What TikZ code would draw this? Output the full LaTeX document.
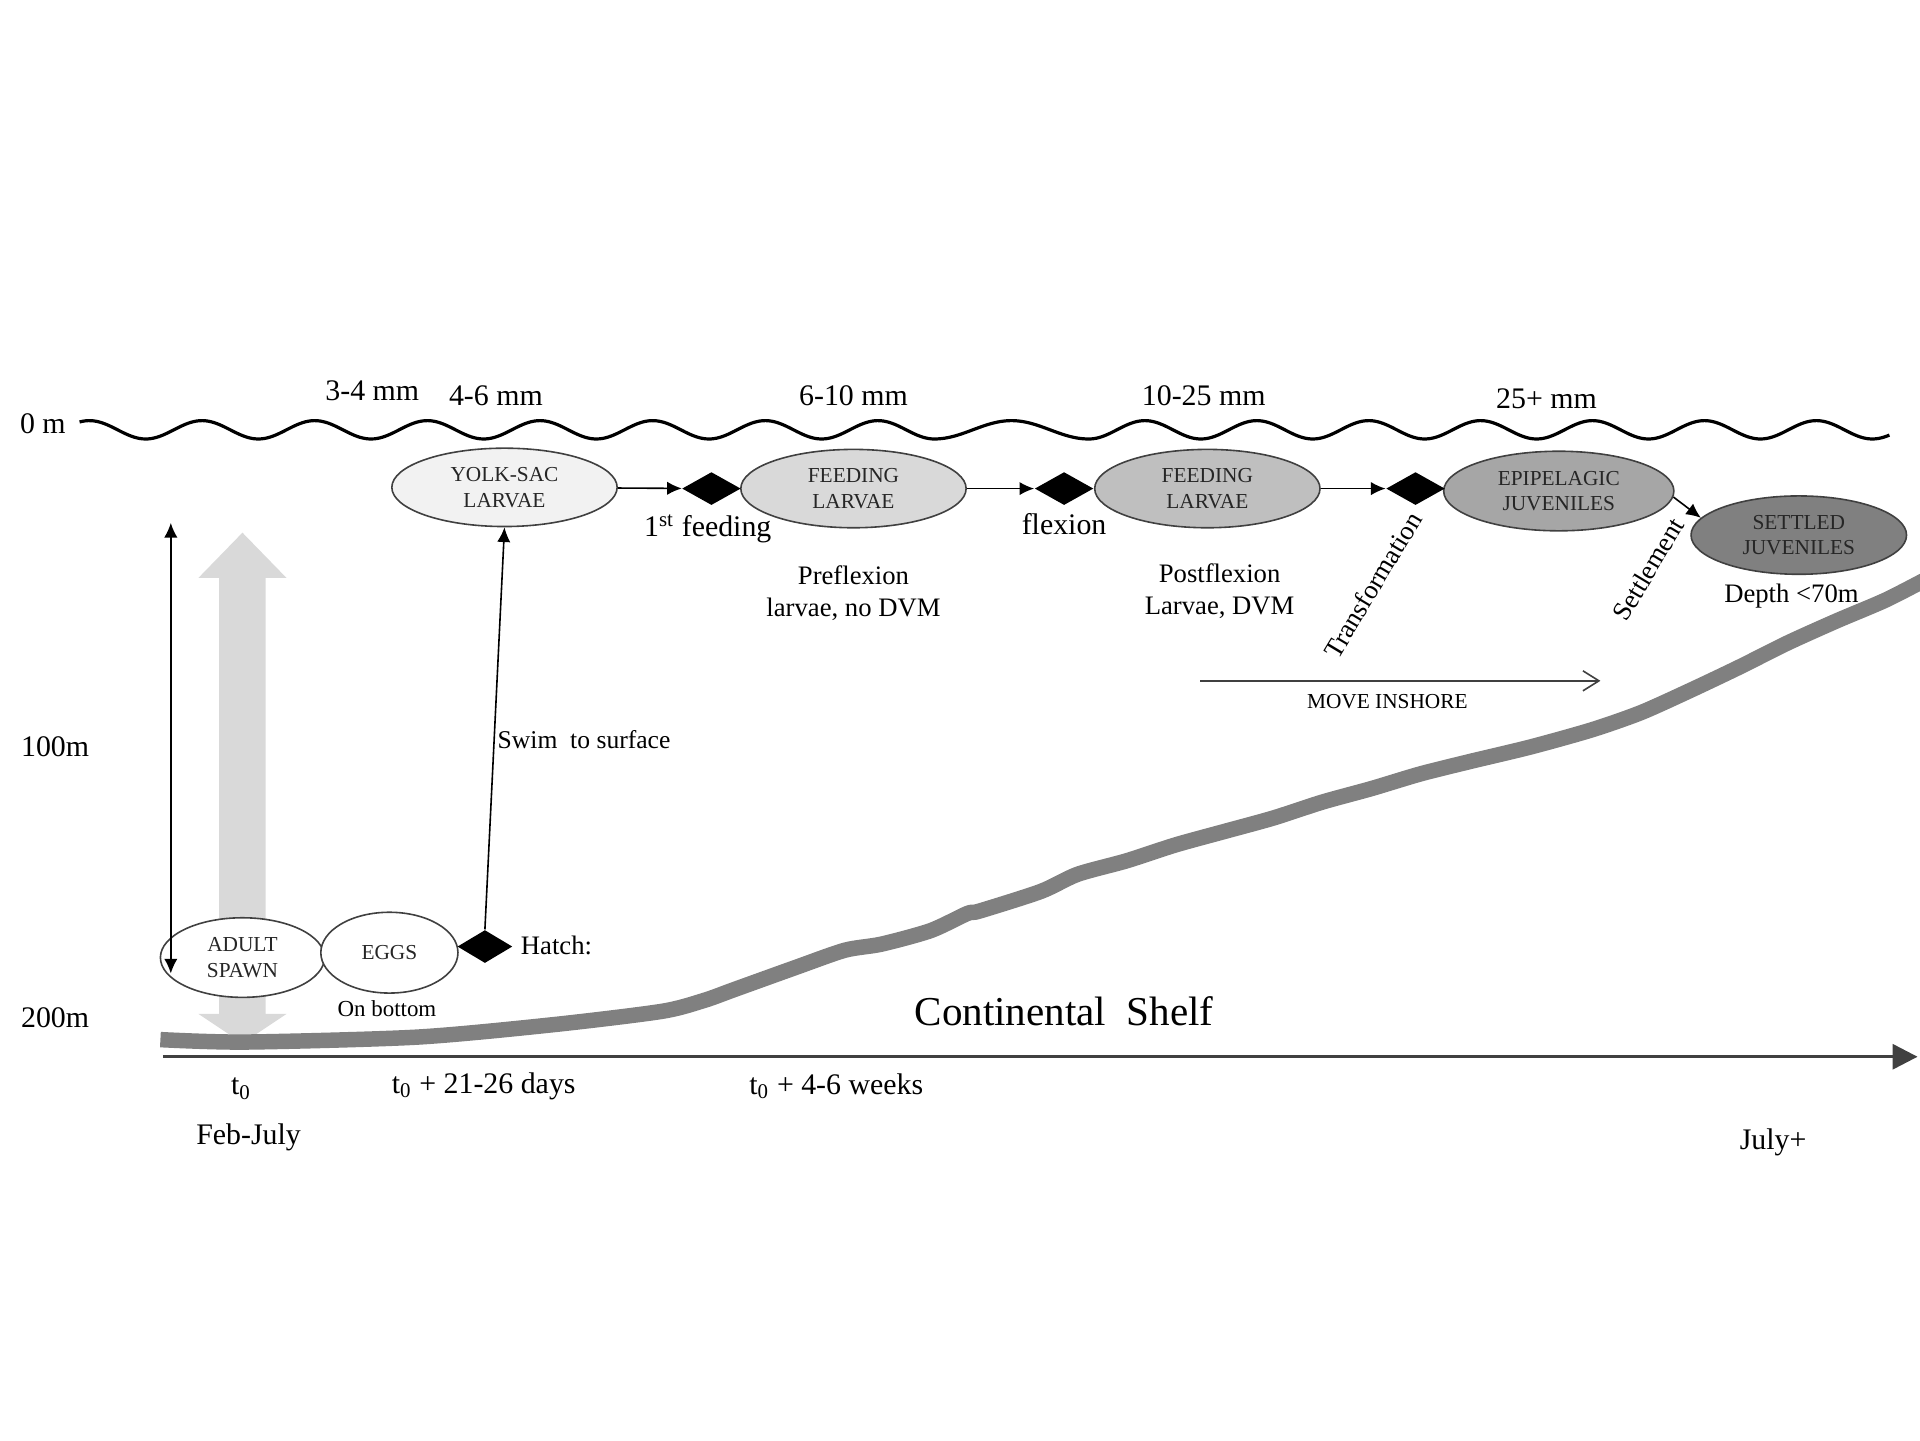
\documentclass[tikz,border=0pt]{standalone}
\usepackage{fontspec}
\setmainfont{Liberation Serif}
\usetikzlibrary{shapes.geometric,arrows.meta}
\newcommand{\myu}{0.4592pt}
\definecolor{yolkc}{HTML}{F2F2F2}
\definecolor{feedac}{HTML}{D9D9D9}
\definecolor{feedbc}{HTML}{BFBFBF}
\definecolor{epic}{HTML}{A6A6A6}
\definecolor{settc}{HTML}{808080}
\definecolor{bedc}{HTML}{808080}
\definecolor{bigarrc}{HTML}{D9D9D9}
\definecolor{axisc}{HTML}{404040}
\begin{document}
\begin{tikzpicture}[x=0.4592pt,y=-0.4592pt,
  stage/.style={ellipse, draw=black!75, line width=0.6pt, inner sep=0pt, align=center,
    font=\fontsize{8}{9.6}\selectfont, text=black!85,
    minimum width=184*\myu, minimum height=64*\myu},
  gate/.style={diamond, fill=black, draw=none, inner sep=0pt,
    minimum width=48*\myu, minimum height=27*\myu},
  flow/.style={-{Latex[length=5.5pt,width=5pt]}, line width=0.6pt},
  bigtext/.style={font=\fontsize{11.2}{13}\selectfont, inner sep=0pt},
  midtext/.style={font=\fontsize{10}{12}\selectfont, inner sep=0pt, align=center},
  tinytext/.style={font=\fontsize{8}{9.6}\selectfont, inner sep=0pt},
]
\useasboundingbox (0,0) rectangle (1568,1176);

% big light gray double arrow
\fill[bigarrc] (198,435) -- (234,472) -- (217,472) -- (217,828) -- (234,828) -- (198,852)
  -- (162,828) -- (179,828) -- (179,472) -- (162,472) -- cycle;

% sea surface
\draw[line width=1.2pt, line join=round]
  plot[domain=65:763, samples=300, smooth] (\x, {351 - 7.5*cos(3.913*(\x-165))})
  -- plot[domain=763:889, samples=60, smooth] (\x, {351 + 7.5*cos(2.857*(\x-763))})
  -- plot[domain=889:1543, samples=300, smooth] (\x, {351 - 7.5*cos(3.939*(\x-935))});

% seabed
\draw[bedc, line width=5.8pt, line cap=butt, line join=round] plot[smooth, tension=0.45] coordinates {
  (131,849) (200,851) (340,847) (450,837) (540,826) (575,817) (600,808) (650,790)
  (690,776) (720,771) (760,760) (790,746) (800,744) (850,728) (880,714) (920,703) (960,690)
  (1000,679) (1040,668) (1080,655) (1120,644) (1160,632) (1200,622) (1250,610)
  (1300,596) (1340,582) (1380,564) (1420,545) (1460,525) (1500,507) (1540,490) (1575,472)};

% stages
\node[stage, fill=yolkc] (yolk) at (412,398) {YOLK-SAC\\LARVAE};
\node[stage, fill=feedac] (feeda) at (697,399) {FEEDING\\LARVAE};
\node[stage, fill=feedbc] (feedb) at (986,399) {FEEDING\\LARVAE};
\node[stage, fill=epic, minimum width=188*\myu, minimum height=65*\myu] (epi) at (1273,401) {EPIPELAGIC\\JUVENILES};
\node[stage, fill=settc, minimum width=176*\myu] (settled) at (1469,437) {SETTLED\\JUVENILES};
\node[stage, fill=white, minimum width=134*\myu, minimum height=65*\myu] (adult) at (198,782) {ADULT\\SPAWN};
\node[stage, fill=white, minimum width=112*\myu, minimum height=66*\myu] (eggs) at (318,778) {EGGS};

% transitions
\node[gate] (da) at (581,399) {};
\node[gate] (db) at (869,399) {};
\node[gate] (dc) at (1156,399) {};
\node[gate, minimum width=45*\myu, minimum height=27*\myu] (hatch) at (396,773) {};

\draw[flow] (yolk) -- (da);
\draw[flow] (feeda) -- (db);
\draw[flow] (feedb) -- (dc);
\draw[flow] (epi.-3) -- (settled.170);
\draw[flow] (hatch.north) -- (yolk.south);

% vertical migration arrow
\coordinate (vtop) at (139.5,427);
\coordinate (vbot) at (139.5,795);
\draw[{Latex[length=5.5pt,width=5pt]}-{Latex[length=5.5pt,width=5pt]}, line width=0.6pt] (vtop) -- (vbot);

% move inshore
\coordinate (mia) at (980,556);
\coordinate (mib) at (1307,556);
\draw[-{Straight Barb[length=6pt,width=7.5pt]}, line width=0.6pt, axisc] (mia) -- (mib);

% time axis
\coordinate (ta) at (133,863);
\coordinate (tb) at (1566,863);
\draw[axisc, line width=1.2pt, -{Triangle[length=9.4pt,width=9.4pt]}] (ta) -- (tb);

% size labels
\node[bigtext] (s34) at (304,319) {3-4 mm};
\node[bigtext] (s46) at (405,323) {4-6 mm};
\node[bigtext] (s610) at (697,323) {6-10 mm};
\node[bigtext] (s1025) at (983,323) {10-25 mm};
\node[bigtext] (s25) at (1263,326) {25+ mm};

% depth labels
\node[bigtext] (d0) at (35,346) {0 m};
\node[bigtext] (d100) at (45,610) {100m};
\node[bigtext] (d200) at (45,831) {200m};

% stage notes
\node[bigtext] (feedl) at (578,432) {1\textsuperscript{st} feeding};
\node[bigtext] (flexl) at (869,428) {flexion};
\node[midtext] (prefl) at (697,484) {Preflexion\\larvae, no DVM};
\node[midtext] (postfl) at (996,483) {Postflexion\\Larvae, DVM};
\node[midtext] (depth) at (1463,487) {Depth <70m};
\node[midtext, anchor=west] (hatchl) at (425,772) {Hatch:};
\node[tinytext, font=\fontsize{8.6}{10}\selectfont] (onbot) at (316,824) {On bottom};
\node[midtext, anchor=west, font=\fontsize{9.6}{11}\selectfont] (swim) at (406,604) {Swim\ \ to surface};
\node[tinytext] (movein) at (1133,573) {MOVE INSHORE};
\node[midtext, rotate=59] (transf) at (1121,478) {Transformation};
\node[midtext, rotate=59] (settl) at (1346,465) {Settlement};
\node[font=\fontsize{15.4}{18}\selectfont, inner sep=0pt] (shelf) at (869,826) {Continental\ \ Shelf};

% time labels
\node[bigtext] (t0l) at (197,889) {t\textsubscript{0}};
\node[bigtext] (febl) at (203,929) {Feb-July};
\node[bigtext] (t21l) at (395,887) {t\textsubscript{0} + 21-26 days};
\node[bigtext] (t46l) at (683,887) {t\textsubscript{0} + 4-6 weeks};
\node[bigtext] (julyl) at (1448,933) {July+};
\end{tikzpicture}
\end{document}
